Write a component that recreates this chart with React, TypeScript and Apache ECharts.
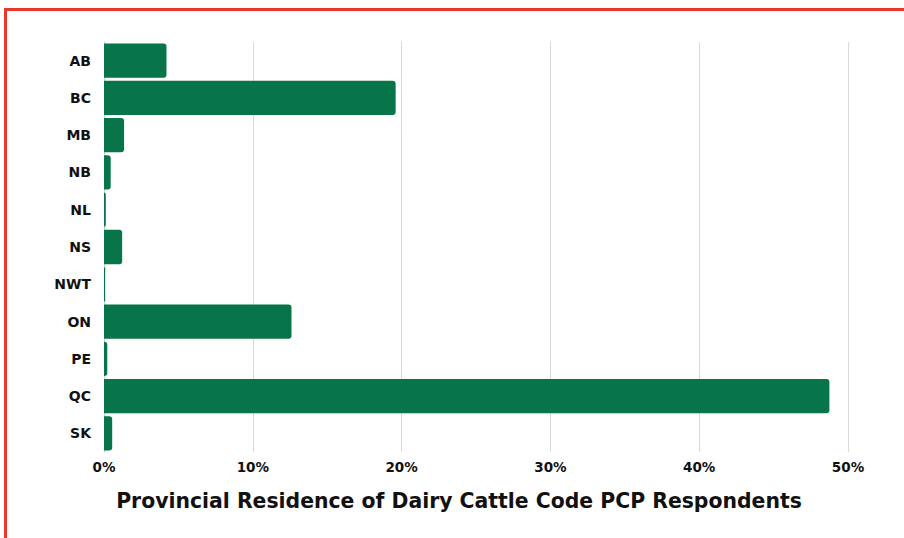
import React, { useEffect, useRef } from "react";
import * as echarts from "echarts";

const categories = ["AB", "BC", "MB", "NB", "NL", "NS", "NWT", "ON", "PE", "QC", "SK"];
const values = [4.2, 19.6, 1.35, 0.45, 0.12, 1.22, 0.08, 12.6, 0.22, 48.75, 0.55];
const xTicks = [0, 10, 20, 30, 40, 50];
const titleText = "Provincial Residence of Dairy Cattle Code PCP Respondents";

export default function App() {
  const ref = useRef<HTMLDivElement>(null);
  useEffect(() => {
    if (!ref.current) return;
    const chart = echarts.init(ref.current, null, { renderer: "svg" });
    chart.setOption({
      animation: false,
      backgroundColor: "#ffffff",
      grid: { left: 104, right: 56, top: 42, bottom: 86, containLabel: false },
      xAxis: {
        type: "value",
        min: xTicks[0],
        max: xTicks[xTicks.length - 1],
        interval: 10,
        axisLine: { show: false },
        axisTick: { show: false },
        splitLine: { show: true, lineStyle: { color: "#d9d9d9", width: 1 } },
        axisLabel: {
          formatter: (v: number) => v + "%",
          color: "#111",
          fontWeight: "bold",
          fontSize: 13.5,
          fontFamily: "DejaVu Sans",
          margin: 8,
        },
      },
      yAxis: {
        type: "category",
        data: categories,
        inverse: true,
        axisLine: { show: true, lineStyle: { color: "#d0d0d0", width: 1 } },
        axisTick: { show: false },
        axisLabel: {
          color: "#111",
          fontWeight: "bold",
          fontSize: 14,
          fontFamily: "DejaVu Sans",
          margin: 13,
        },
      },
      series: [
        {
          type: "bar",
          data: values,
          barCategoryGap: "8%",
          itemStyle: { color: "#07744a", borderRadius: [0, 3, 3, 0] },
        },
      ],
      graphic: [
        { type: "rect", shape: { x: 4, y: 8, width: 3, height: 530 }, style: { fill: "#e8372b" }, silent: true },
        { type: "rect", shape: { x: 4, y: 8, width: 900, height: 3 }, style: { fill: "#e8372b" }, silent: true },
        {
          type: "text",
          x: 459,
          y: 501,
          style: {
            text: titleText,
            fill: "#111",
            font: "bold 20.4px 'DejaVu Sans'",
            textAlign: "center",
            textVerticalAlign: "middle",
          },
        },
      ],
    });
    return () => chart.dispose();
  }, []);
  return (
    <div
      ref={ref}
      style={{ position: "fixed", left: 0, top: 0, width: 904, height: 538 }}
    />
  );
}
